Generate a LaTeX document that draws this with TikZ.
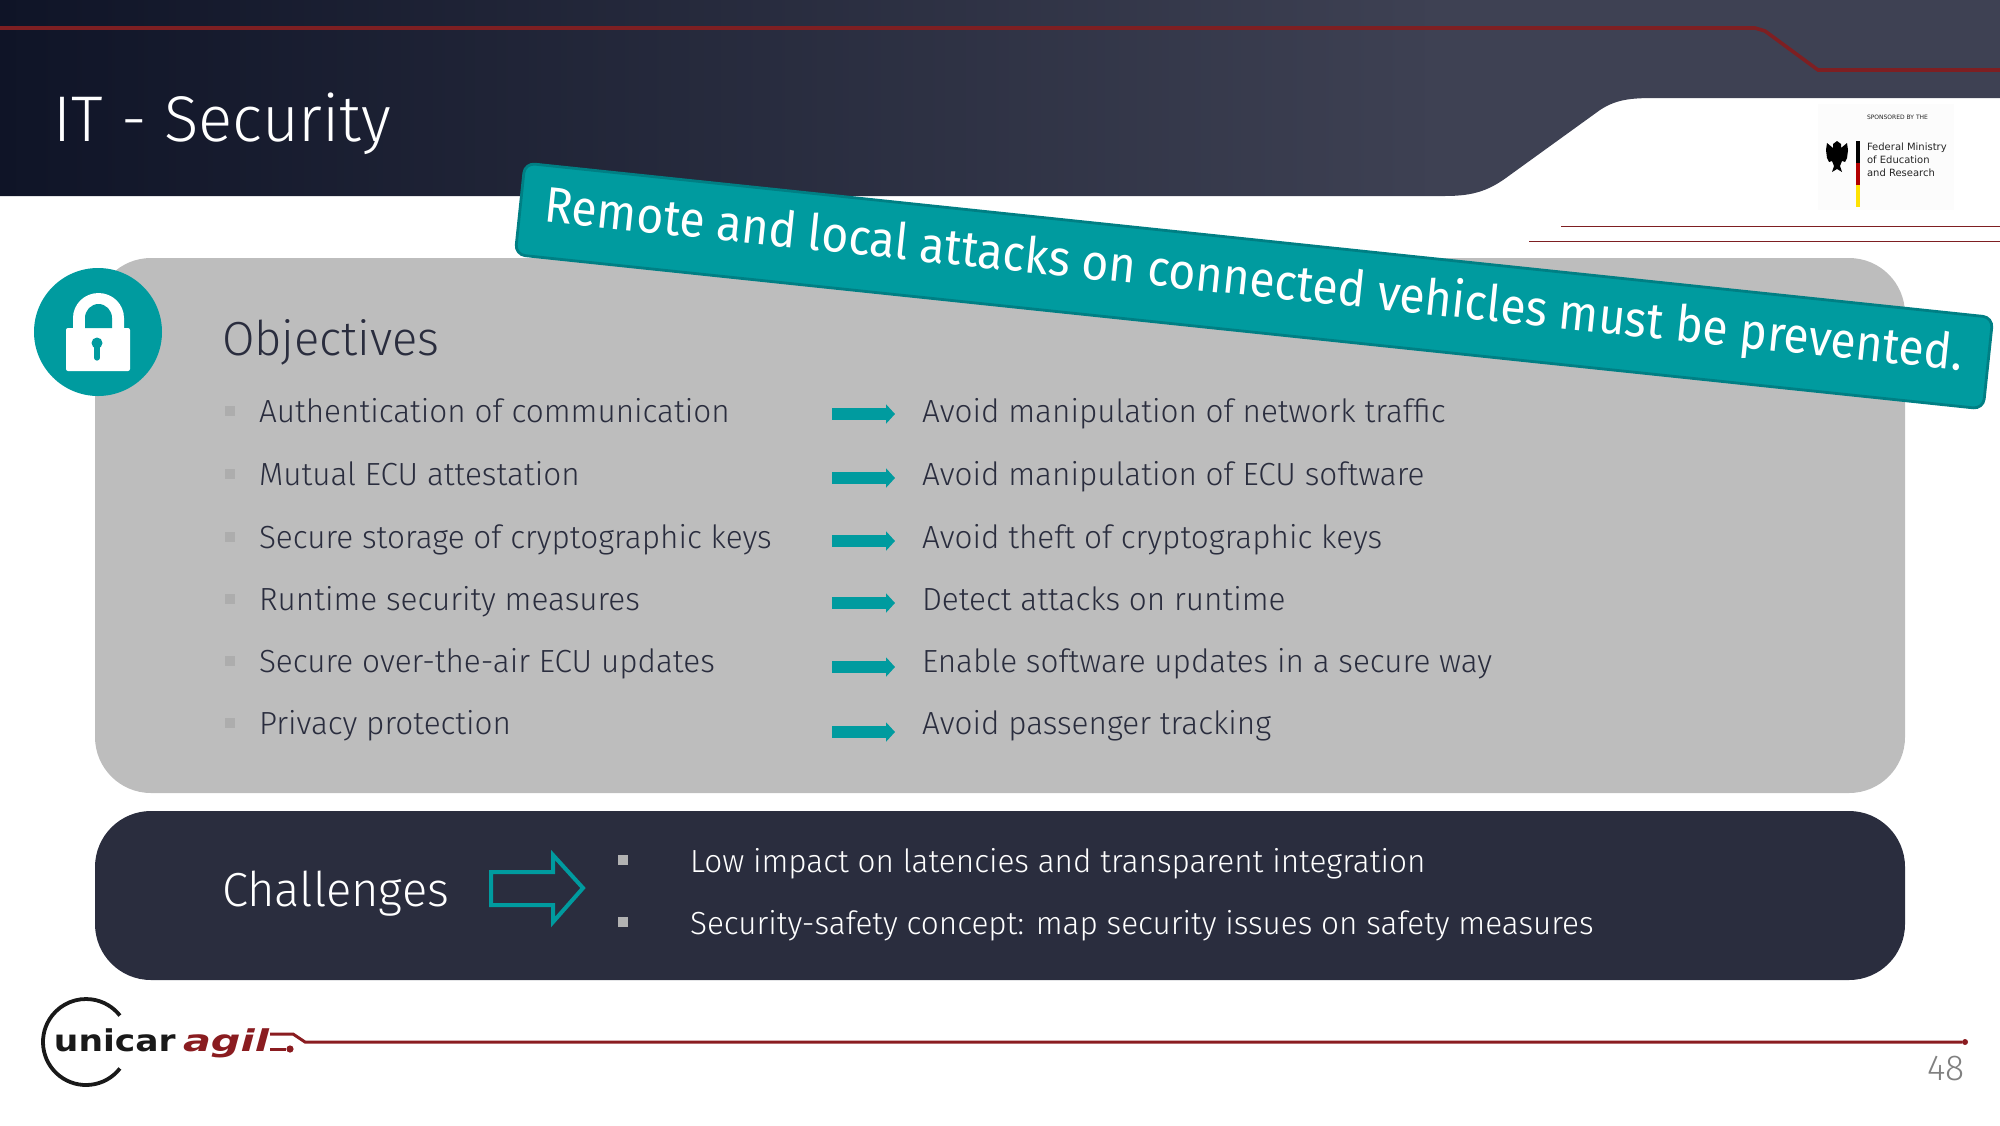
\documentclass[tikz,border=0pt]{standalone}
\usepackage{fontspec}
\usepackage{tikz}
\usetikzlibrary{arrows.meta}
\usetikzlibrary{positioning}
\setmainfont[FakeStretch=0.985]{Fira Sans Light}
\newfontfamily\bannerfont[FakeStretch=0.925]{Fira Sans}
\newfontfamily\logofont{DejaVu Sans}
\definecolor{headdark}{HTML}{0F1427}
\definecolor{headlight}{HTML}{3E4153}
\definecolor{tealmain}{HTML}{009B9F}
\definecolor{tealedge}{HTML}{007F84}
\definecolor{boxgray}{HTML}{BDBDBD}
\definecolor{boxdark}{HTML}{2A2D3E}
\definecolor{railred}{HTML}{7E1F22}
\definecolor{logored}{HTML}{8A1C20}
\pgfdeclarehorizontalshading{headshade}{100bp}{color(0bp)=(headdark); color(25bp)=(headdark); color(61bp)=(headlight); color(100bp)=(headlight)}

\begin{document}
\begin{tikzpicture}[
    x=0.5pt, y=-0.5pt,
    every node/.style={inner sep=0pt, outer sep=0pt},
    listtext/.style={anchor=base west, text=boxdark, font=\fontsize{16}{18}\selectfont},
    darktext/.style={anchor=base west, text=white, font=\fontsize{16}{18}\selectfont},
    headtext/.style={anchor=base west, font=\fontsize{23.9}{28}\selectfont},
    bulletbox/.style={minimum size=5pt, fill=#1},
    resultarrow/.style={line width=6pt, color=tealmain, -{Triangle[length=4.5pt,width=9.5pt]}},
    ministry/.style={anchor=base west, text=black!85, font=\logofont\fontsize{5}{6}\selectfont}
    ]
    \useasboundingbox (0,0) rectangle (2000,1125);

    % header
    \shade[shading=headshade] (0,0) -- (2000,0) -- (2000,98) -- (1660,98)
        .. controls (1635,98) and (1618,98) .. (1600,110) -- (1510,175)
        .. controls (1490,190) and (1475,196) .. (1445,196) -- (0,196) -- cycle;
    \draw[railred, line width=1.8pt] (0,28) -- (1755,28) -- (1765,31) -- (1818,70) -- (2000,70);
    \draw[railred, line width=0.5pt] (1561,226) -- (2000,226);
    \draw[railred, line width=0.5pt] (1529,241) -- (2000,241);
    \node[headtext, text=white, font=\fontsize{32.3}{36}\selectfont] (title) at (54,141) {IT - Security};

    % sponsor
    \node[minimum width=68pt, minimum height=53pt, fill=black!1] (sponsorbox) at (1886,157) {};
    \node[ministry, font=\logofont\fontsize{3}{4}\selectfont] (sponsored) at (1867,119) {SPONSORED BY THE};
    \node[ministry] (ministry1) at (1867,150) {Federal Ministry};
    \node[ministry] (ministry2) at (1867,163) {of Education};
    \node[ministry] (ministry3) at (1867,176) {and Research};
    \fill[black] (1856,141) rectangle (1860,163);
    \fill[red!70!black] (1856,163) rectangle (1860,185);
    \fill[yellow!85!orange] (1856,185) rectangle (1860,207);
    % eagle
    \fill[black] (1837,141) -- (1841,144) -- (1841,148) -- (1847,143) -- (1848,150) -- (1847,158)
        -- (1845,162) -- (1842,161) -- (1840,166) -- (1842,172) -- (1837,169) -- (1832,172)
        -- (1834,166) -- (1832,161) -- (1829,162) -- (1827,158) -- (1826,150) -- (1827,143)
        -- (1833,148) -- (1833,144) -- cycle;

    % boxes
    \fill[boxgray, rounded corners=28pt] (95,258) rectangle (1905,793);
    \fill[boxdark, rounded corners=28pt] (95,811) rectangle (1905,980);

    % lock icon
    \node[circle, fill=tealmain, minimum size=64pt] (lockicon) at (98,332) {};
    \fill[white, rounded corners=1pt] (66,328) rectangle (130,371);
    \fill[white] (73,330) -- (73,318) arc[start angle=180, end angle=360, x radius=25.5, y radius=25] -- (124,330) -- cycle;
    \fill[tealmain] (85,328) -- (85,318) arc[start angle=180, end angle=360, x radius=13.5, y radius=14] -- (112,328) -- cycle;
    \fill[tealmain] (97,343) circle[radius=5.5];
    \draw[tealmain, line width=2.6pt, line cap=round] (97,345) -- (97,358);

    % objectives
    \node[headtext, text=boxdark] (objectives) at (222,355) {Objectives};
    \foreach \i/\ty/\ay/\lefttext/\righttext in {
        1/422/414/Authentication of communication/Avoid manipulation of network traffic,
        2/485/478/Mutual ECU attestation/Avoid manipulation of ECU software,
        3/548/541/Secure storage of cryptographic keys/Avoid theft of cryptographic keys,
        4/610/603/Runtime security measures/Detect attacks on runtime,
        5/672/667/Secure over-the-air ECU updates/Enable software updates in a secure way,
        6/734/732/Privacy protection/Avoid passenger tracking}
    {
        \node[bulletbox=black!32] (bullet\i) at (230,\ty-11) {};
        \node[listtext] (objective\i) at (259,\ty) {\lefttext};
        \node[listtext] (result\i) at (922,\ty) {\righttext};
        \coordinate (arrowstart\i) at (832,\ay);
        \coordinate (arrowend\i) at (895,\ay);
        \draw[resultarrow] (arrowstart\i) -- (arrowend\i);
    }

    % challenges
    \node[headtext, text=white] (challenges) at (222,906) {Challenges};
    \draw[tealmain, line width=2pt, miter limit=5] (491,872) -- (553,872) -- (553,855) -- (583,888)
        -- (553,922) -- (553,905) -- (491,905) -- cycle;
    \node[bulletbox=black!30] (dot1) at (623,860) {};
    \node[bulletbox=black!30] (dot2) at (623,922) {};
    \node[darktext] (challenge1) at (690,872) {Low impact on latencies and transparent integration};
    \node[darktext] (challenge2) at (690,934) {Security-safety concept: map security issues on safety measures};

    % banner
    \node[rotate=-6, minimum width=738pt, minimum height=46pt, rounded corners=5pt,
        fill=tealmain, draw=tealedge, line width=1.4pt] (banner) at (1254,286) {};
    \node[rotate=-6, text=white, font=\bannerfont\fontsize{25}{28}\selectfont] (bannertext) at (1254,282)
        {Remote and local attacks on connected vehicles must be prevented.};

    % footer logo
    \draw[black!90, line width=1.9pt] (86,1042) ++(38:43) arc[start angle=38, end angle=322, radius=43];
    \node[anchor=base west, xscale=1.15, text=black!90, font=\logofont\bfseries\fontsize{15}{16}\selectfont] (unicar) at (54,1051) {unicar};
    \node[anchor=base west, xscale=1.38, text=logored, font=\logofont\bfseries\itshape\fontsize{15}{16}\selectfont] (agil) at (183,1051) {agil};
    \coordinate (railstart) at (270,1034);
    \coordinate (railend) at (1965,1042);
    \node[circle, fill=logored, minimum size=3.6pt] (raildot) at (290,1049) {};
    \node[circle, fill=logored, minimum size=3pt] (railtip) at (railend) {};
    \draw[logored, line width=1.5pt] (railstart) -- (293,1034) -- (305,1042) -- (railtip);
    \draw[logored, line width=1.5pt] (270,1049) -- (raildot);
    \node[anchor=base west, text=black!50, font=\fontsize{18}{20}\selectfont] (pagenum) at (1927,1080) {48};
\end{tikzpicture}
\end{document}
